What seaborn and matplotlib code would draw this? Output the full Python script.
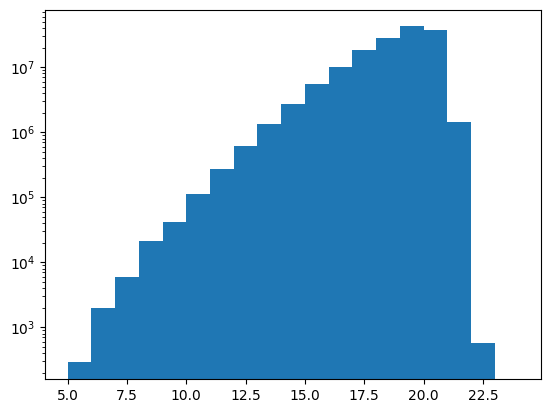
import matplotlib
matplotlib.use("Agg")
import matplotlib.pyplot as plt
import numpy as np
import pandas as pd
import seaborn as sns

# histogram counts (bin width 1, log y)
bin_edges = [5, 6, 7, 8, 9, 10, 11, 12, 13, 14, 15, 16, 17, 18, 19, 20, 21, 22, 23, 24]
bin_values = [5.5, 6.5, 7.5, 8.5, 9.5, 10.5, 11.5, 12.5, 13.5, 14.5,
              15.5, 16.5, 17.5, 18.5, 19.5, 20.5, 21.5, 22.5, 23.5]
counts = [287, 2010, 6030, 21300, 42300, 114000, 276000, 624000, 1.33e6, 2.76e6,
          5.42e6, 1.02e7, 1.87e7, 2.86e7, 4.23e7, 3.80e7, 1.46e6, 582, 0]

df = pd.DataFrame({"value": bin_values, "count": counts})

fig, ax = plt.subplots(figsize=(6.4, 4.8), dpi=100)
sns.histplot(
    data=df,
    x="value",
    weights="count",
    bins=bin_edges,
    color="#1f77b4",
    alpha=1.0,
    linewidth=0,
    ax=ax,
)
ax.set_yscale("log")
ax.set_xlabel("")
ax.set_ylabel("")
fig.savefig("out.png", dpi=100, bbox_inches="tight")
